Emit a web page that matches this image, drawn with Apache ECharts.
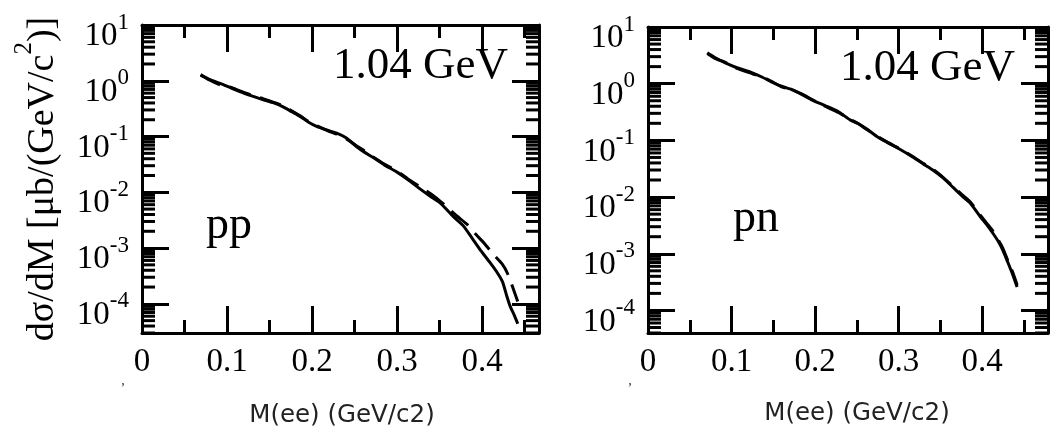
<!DOCTYPE html>
<html><head><meta charset="utf-8">
<script src="https://cdn.jsdelivr.net/npm/echarts@6/dist/echarts.min.js"></script>
<style>html,body{margin:0;padding:0;background:#fff}#c{width:1050px;height:435px}</style>
</head><body><div id="c"></div>
<script>
// ---- data ----
const xTickLabels = ['0', '0.1', '0.2', '0.3', '0.4'];
const energyLabel = '1.04 GeV';
const panelLabels = ['pp', 'pn'];
const xAxisTitle = 'M(ee) (GeV/c2)';
const yMinorMantissas = [2, 3, 4, 5, 6, 7, 8, 9];
const yDecades = [-5, -4, -3, -2, -1, 0];

const ppSolidX = [0.069,0.08,0.092,0.105,0.115,0.13,0.142,0.155,0.166,0.176,0.186,0.196,0.206,0.218,0.229,0.24,0.253,0.262,0.272,0.285,0.30,0.315,0.327,0.339,0.351,0.366,0.378,0.389,0.399,0.409,0.417,0.424,0.429,0.433,0.438,0.442];
const ppSolidY = [1.25,1.05,0.90,0.74,0.64,0.53,0.46,0.40,0.34,0.28,0.23,0.18,0.15,0.13,0.115,0.095,0.065,0.052,0.042,0.031,0.023,0.016,0.0115,0.0085,0.0064,0.0037,0.0025,0.00145,0.00088,0.00056,0.00038,0.00025,0.00014,0.000091,0.000062,0.000044];
const ppDashX = [0.069,0.08,0.092,0.105,0.115,0.13,0.142,0.155,0.166,0.176,0.186,0.196,0.206,0.218,0.229,0.24,0.253,0.262,0.272,0.285,0.30,0.315,0.33,0.345,0.359,0.37,0.382,0.392,0.403,0.413,0.424,0.43,0.436,0.442];
const ppDashY = [1.30,1.02,0.84,0.76,0.66,0.55,0.48,0.41,0.355,0.29,0.235,0.185,0.155,0.128,0.11,0.092,0.067,0.055,0.043,0.032,0.024,0.0165,0.0118,0.0082,0.0054,0.0038,0.0027,0.0018,0.0012,0.00078,0.00051,0.00035,0.0002,0.00011];

const pnX = [0.071,0.08,0.092,0.105,0.125,0.137,0.149,0.16,0.172,0.184,0.196,0.212,0.228,0.242,0.251,0.263,0.275,0.286,0.30,0.317,0.33,0.341,0.353,0.365,0.376,0.386,0.398,0.406,0.413,0.42,0.425,0.431,0.437,0.442];
const pnSolidY = [3.5,2.9,2.35,1.95,1.55,1.3,1.05,0.9,0.79,0.65,0.52,0.41,0.32,0.23,0.2,0.155,0.115,0.093,0.072,0.051,0.038,0.030,0.022,0.015,0.0105,0.0078,0.0045,0.0032,0.0023,0.0016,0.00115,0.0007,0.00042,0.00026];
const pnDashY = [3.4,2.8,2.4,1.9,1.5,1.32,1.08,0.88,0.78,0.66,0.53,0.40,0.31,0.235,0.2,0.152,0.117,0.094,0.073,0.052,0.039,0.031,0.0225,0.0155,0.011,0.0082,0.0048,0.0034,0.0025,0.0017,0.00125,0.00075,0.00046,0.00028];

// ---- helpers ----
const zip = (xs, ys) => xs.map((x, i) => [x, ys[i]]);
const yMinorTicks = yDecades.flatMap(d => yMinorMantissas.map(m => m * Math.pow(10, d)));
const SERIF = 'Liberation Serif';
const SANS = 'DejaVu Sans';
const BLACK = '#000';

const grids = [
  {left: 142, top: 25, width: 397, height: 308},
  {left: 648, top: 27, width: 400, height: 306}
];
const xMax = [0.467, 0.479];
const yMin = [3e-5, 4e-5];

const xAxes = [], yAxes = [];
grids.forEach((g, gi) => {
  ['bottom', 'top'].forEach(pos => {
    xAxes.push({
      gridIndex: gi, type: 'value', position: pos, min: 0, max: xMax[gi], interval: 0.1,
      axisLine: {show: true, onZero: false, lineStyle: {color: BLACK, width: 3}},
      axisTick: {show: true, inside: true, length: 27, lineStyle: {color: BLACK, width: 3}},
      axisLabel: pos === 'bottom' ? {
        show: true, showMaxLabel: false, margin: 13, color: BLACK,
        fontFamily: SERIF, fontSize: 33,
        formatter: v => xTickLabels[Math.round(v * 10)] || ''
      } : {show: false},
      splitLine: {show: false}
    });
    xAxes.push({
      gridIndex: gi, type: 'value', position: pos, min: 0, max: xMax[gi], interval: 0.05,
      axisLine: {show: false},
      axisTick: {show: true, inside: true, length: 13, lineStyle: {color: BLACK, width: 3}},
      axisLabel: {show: false}, splitLine: {show: false}
    });
  });
  ['left', 'right'].forEach(pos => {
    const ax = {
      gridIndex: gi, type: 'log', logBase: 10, position: pos, min: yMin[gi], max: 10,
      axisLine: {show: true, onZero: false, lineStyle: {color: BLACK, width: 3}},
      axisTick: {show: true, inside: true, length: 27, lineStyle: {color: BLACK, width: 3}},
      splitLine: {show: false},
      axisLabel: {show: false}
    };
    if (pos === 'left') {
      ax.axisLabel = {
        show: true, showMinLabel: false, margin: 13, verticalAlign: 'middle',
        padding: [14, 0, 0, 0],
        formatter: v => '{b|10}{s|' + Math.round(Math.log10(v)) + '}',
        rich: {
          b: {fontFamily: SERIF, fontSize: 33, color: BLACK, lineHeight: 42, verticalAlign: 'bottom'},
          s: {fontFamily: SERIF, fontSize: 23, color: BLACK, lineHeight: 23, verticalAlign: 'top'}
        }
      };
      if (gi === 0) {
        ax.name = '{a|dσ/dM [μb/(GeV/c}{s|2}{a|)]}';
        ax.nameLocation = 'middle';
        ax.nameRotate = 90;
        ax.nameGap = 80;
        ax.nameTextStyle = {
          rich: {
            a: {fontFamily: SERIF, fontSize: 38, color: BLACK, lineHeight: 50, verticalAlign: 'bottom'},
            s: {fontFamily: SERIF, fontSize: 25, color: BLACK, lineHeight: 25, verticalAlign: 'top'}
          }
        };
      }
    }
    yAxes.push(ax);
  });
});

function minorTickSeries(xi, yi) {
  return {
    type: 'custom', xAxisIndex: xi, yAxisIndex: yi, silent: true, clip: false, z: 3,
    data: yMinorTicks.map(v => [0, v]),
    renderItem(params, api) {
      const cs = params.coordSys;
      const y = api.coord([0, api.value(1)])[1];
      if (!(y >= cs.y - 0.5 && y <= cs.y + cs.height + 0.5)) return {type: 'group', children: []};
      const st = {stroke: BLACK, lineWidth: 3};
      return {type: 'group', children: [
        {type: 'line', shape: {x1: cs.x, y1: y, x2: cs.x + 13, y2: y}, style: st},
        {type: 'line', shape: {x1: cs.x + cs.width, y1: y, x2: cs.x + cs.width - 13, y2: y}, style: st}
      ]};
    }
  };
}

const lineBase = {type: 'line', showSymbol: false, symbol: 'none', smooth: 0.2, silent: true, z: 4};
const series = [
  Object.assign({}, lineBase, {name: 'pp solid', xAxisIndex: 0, yAxisIndex: 0, data: zip(ppSolidX, ppSolidY), lineStyle: {color: BLACK, width: 3, type: 'solid'}}),
  Object.assign({}, lineBase, {name: 'pp dashed', xAxisIndex: 0, yAxisIndex: 0, data: zip(ppDashX, ppDashY), lineStyle: {color: BLACK, width: 3, type: [22, 10]}}),
  Object.assign({}, lineBase, {name: 'pn solid', xAxisIndex: 4, yAxisIndex: 2, data: zip(pnX, pnSolidY), lineStyle: {color: BLACK, width: 3, type: 'solid'}}),
  Object.assign({}, lineBase, {name: 'pn dashed', xAxisIndex: 4, yAxisIndex: 2, data: zip(pnX, pnDashY), lineStyle: {color: BLACK, width: 3, type: [22, 10]}}),
  minorTickSeries(0, 0),
  minorTickSeries(4, 2)
];

const txt = (x, y, text, font, size, align, color) => ({
  type: 'text', x, y, silent: true,
  style: {text, fontFamily: font, fontSize: size, fill: color || BLACK, align: align || 'left', verticalAlign: 'middle'}
});

const graphic = [
  txt(333, 66, energyLabel, SERIF, 45),
  txt(840, 68, energyLabel, SERIF, 45),
  txt(206, 226, panelLabels[0], SERIF, 46),
  txt(733, 219, panelLabels[1], SERIF, 46),
  txt(342, 416, xAxisTitle, SANS, 24.5, 'center', '#222'),
  txt(857, 414, xAxisTitle, SANS, 24.5, 'center', '#222'),
  txt(123, 381, ',', SERIF, 14, 'center', '#333'),
  txt(630, 381, ',', SERIF, 14, 'center', '#333')
];

const chart = echarts.init(document.getElementById('c'), null, {renderer: 'canvas'});
chart.setOption({
  animation: false,
  backgroundColor: '#fff',
  grid: grids.map(g => Object.assign({containLabel: false}, g)),
  xAxis: xAxes,
  yAxis: yAxes,
  series,
  graphic
});
</script>
</body></html>
